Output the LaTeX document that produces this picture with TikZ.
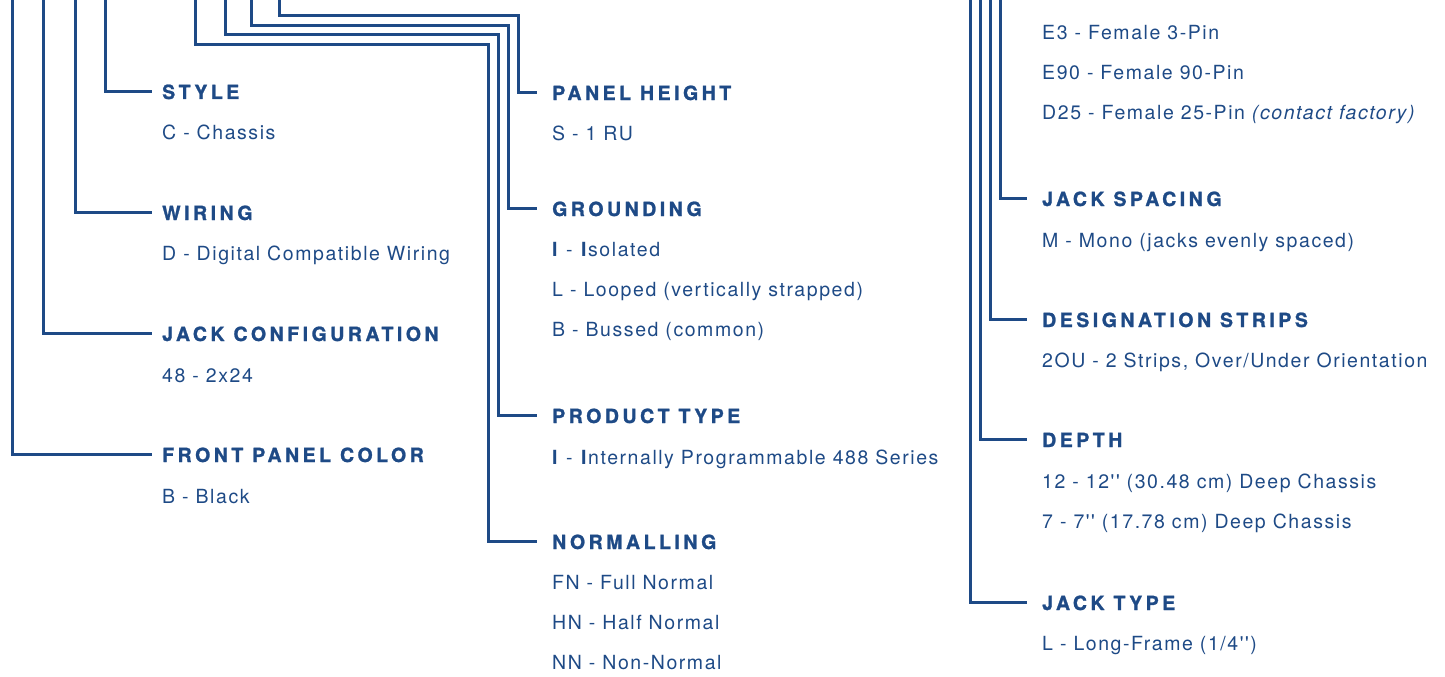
\documentclass[tikz,border=0pt]{standalone}
\usepackage{fontspec}
\setmainfont{TeX Gyre Heros}
\newfontfamily\headfont[LetterSpace=18, BoldFeatures={FakeBold=1.2}]{TeX Gyre Heros}
\newfontfamily\bodyfont[LetterSpace=8]{TeX Gyre Heros}
\usepackage{xcolor}
\usetikzlibrary{positioning, calc}
\definecolor{codeblue}{RGB}{30,74,134}
\tikzset{
  opthead/.style={anchor=base west, inner sep=0pt, text=codeblue,
    font=\headfont\bfseries\fontsize{19.5}{24}\selectfont},
  % multi-line bodies are placed by the baseline of their last line
  optbody/.style={anchor=base west, inner sep=0pt, align=left, text=codeblue,
    font=\bodyfont\fontsize{19.5}{40}\selectfont},
  leadline/.style={draw=codeblue, line width=3pt},
}

\begin{document}
\begin{tikzpicture}[x=1pt, y=-1pt]
  \useasboundingbox (0,0) rectangle (1445,677);

  % Left column
  \node[opthead] (style) at (162,99) {STYLE};
  \node[optbody] (styleopt) at (162,139) {C - Chassis};
  \node[opthead] (wiring) at (162,220) {WIRING};
  \node[optbody] (wiringopt) at (162,260) {D - Digital Compatible Wiring};
  \node[opthead] (jackcfg) at (162,341) {JACK CONFIGURATION};
  \node[optbody] (jackcfgopt) at (162,382) {48 - 2x24};
  \node[opthead] (panelcolor) at (162,462) {FRONT PANEL COLOR};
  \node[optbody] (panelcoloropt) at (162,503) {B - Black};

  % Middle column
  \node[opthead] (panelh) at (552,100) {PANEL HEIGHT};
  \node[optbody] (panelhopt) at (552,140) {S - 1 RU};
  \node[opthead] (ground) at (552,216) {GROUNDING};
  \node[optbody] (groundopt) at (552,336) {\textbf{I} - \textbf{I}solated\\L - Looped (vertically strapped)\\B - Bussed (common)};
  \node[opthead] (prodtype) at (552,423) {PRODUCT TYPE};
  \node[optbody] (prodtypeopt) at (552,464) {\textbf{I} - \textbf{I}nternally Programmable 488 Series};
  \node[opthead] (normal) at (552,549) {NORMALLING};
  \node[optbody] (normalopt) at (552,669) {FN - Full Normal\\HN - Half Normal\\NN - Non-Normal};

  % Right column
  \node[optbody] (connopt) at (1042,119) {E3 - Female 3-Pin\\E90 - Female 90-Pin\\D25 - Female 25-Pin \textit{(contact factory)}};
  \node[opthead] (spacing) at (1042,206) {JACK SPACING};
  \node[optbody] (spacingopt) at (1042,247) {M - Mono (jacks evenly spaced)};
  \node[opthead] (strips) at (1042,327) {DESIGNATION STRIPS};
  \node[optbody] (stripsopt) at (1042,367) {2OU - 2 Strips, Over/Under Orientation};
  \node[opthead] (depth) at (1042,447) {DEPTH};
  \node[optbody] (depthopt) at (1042,528) {12 - 12'' (30.48 cm) Deep Chassis\\7 - 7'' (17.78 cm) Deep Chassis};
  \node[opthead] (jacktype) at (1042,610) {JACK TYPE};
  \node[optbody] (jacktypeopt) at (1042,650) {L - Long-Frame (1/4'')};

  % Lead lines, left
  \coordinate (styleTop) at (105,0);
  \coordinate (wiringTop) at (75,0);
  \coordinate (jackcfgTop) at (43,0);
  \coordinate (colorTop) at (12,0);
  \draw[leadline] (styleTop) |- ([xshift=-10pt]style.west);
  \draw[leadline] (wiringTop) |- ([xshift=-10pt]wiring.west);
  \draw[leadline] (jackcfgTop) |- ([xshift=-10pt]jackcfg.west);
  \draw[leadline] (colorTop) |- ([xshift=-10pt]panelcolor.west);

  % Lead lines, middle
  \coordinate (heightTop) at (279,0);
  \coordinate (groundTop) at (251,0);
  \coordinate (prodTop) at (225,0);
  \coordinate (normalTop) at (195,0);
  \coordinate (heightBend) at (518,16);
  \coordinate (groundBend) at (508,26);
  \coordinate (prodBend) at (498,35);
  \coordinate (normalBend) at (488,45);
  \draw[leadline] (heightTop) |- (heightBend) |- ([xshift=-15pt]panelh.west);
  \draw[leadline] (groundTop) |- (groundBend) |- ([xshift=-15pt]ground.west);
  \draw[leadline] (prodTop) |- (prodBend) |- ([xshift=-15pt]prodtype.west);
  \draw[leadline] (normalTop) |- (normalBend) |- ([xshift=-15pt]normal.west);

  % Lead lines, right
  \coordinate (spacingTop) at (1000,0);
  \coordinate (stripsTop) at (990,0);
  \coordinate (depthTop) at (980,0);
  \coordinate (jacktypeTop) at (970,0);
  \draw[leadline] (spacingTop) |- ([xshift=-15pt]spacing.west);
  \draw[leadline] (stripsTop) |- ([xshift=-15pt]strips.west);
  \draw[leadline] (depthTop) |- ([xshift=-15pt]depth.west);
  \draw[leadline] (jacktypeTop) |- ([xshift=-15pt]jacktype.west);
\end{tikzpicture}
\end{document}
